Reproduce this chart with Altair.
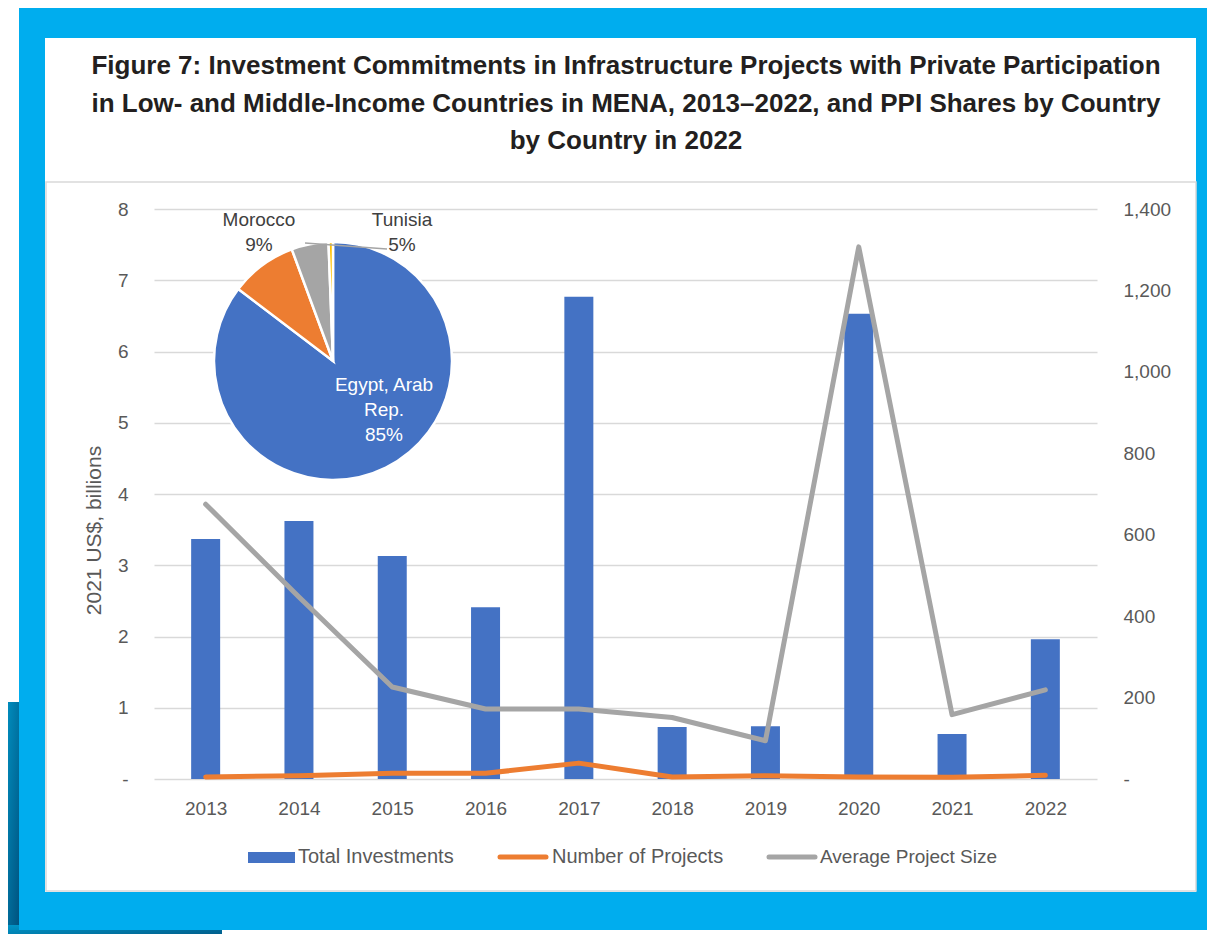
import altair as alt
import pandas as pd

# ---------------- data ----------------
years = [2013, 2014, 2015, 2016, 2017, 2018, 2019, 2020, 2021, 2022]
total_investments = [3.37, 3.62, 3.13, 2.41, 6.77, 0.73, 0.74, 6.53, 0.63, 1.96]
number_of_projects = [5, 8, 14, 14, 39, 5, 8, 5, 4, 9]
average_project_size = [675, 447, 226, 172, 172, 151, 94, 1307, 158, 219]

pie_countries = ["Egypt, Arab Rep.", "Morocco", "Tunisia", "Other"]
pie_shares = [85, 9, 5, 0.6]
pie_order = [1, 2, 3, 4]

left_ticks = [0, 1, 2, 3, 4, 5, 6, 7, 8]
right_ticks = [0, 200, 400, 600, 800, 1000, 1200, 1400]

title_lines = [
    "Figure 7: Investment Commitments in Infrastructure Projects with Private Participation",
    "in Low- and Middle-Income Countries in MENA, 2013\u20132022, and PPI Shares by Country",
    "by Country in 2022",
]
legend_labels = ["Total Investments", "Number of Projects", "Average Project Size"]

# ---------------- styling ----------------
BLUE = "#4472C4"
ORANGE = "#ED7D31"
GRAY = "#A5A5A5"
YELLOW = "#FFC000"
CYAN = "#00ADEE"
GRID = "#D9D9D9"
LABEL = "#595959"
FONT = "Liberation Sans"

PW, PH = 943, 570
one = pd.DataFrame({"k": [0]})

bars_df = pd.DataFrame({"year": years, "value": total_investments})
lines_df = pd.DataFrame({
    "year": years * 2,
    "value": number_of_projects + average_project_size,
    "series": [legend_labels[1]] * len(years) + [legend_labels[2]] * len(years),
})
pie_df = pd.DataFrame({"country": pie_countries, "share": pie_shares, "ord": pie_order})


def rect(x, x2, y, y2, **kw):
    return alt.Chart(one).mark_rect(**kw).encode(
        x=alt.value(x), x2=alt.value(x2), y=alt.value(y), y2=alt.value(y2)
    )


def text(s, x, y, size=19, color=LABEL, weight="normal", align="center"):
    return alt.Chart(pd.DataFrame({"t": [s]})).mark_text(
        font=FONT, fontSize=size, color=color, fontWeight=weight,
        align=align, baseline="middle"
    ).encode(x=alt.value(x), y=alt.value(y), text="t:N")


# ---------------- frame (ring only, so axes behind marks stay visible) ----------------
dark = alt.LinearGradient(
    gradient="linear",
    stops=[alt.GradientStop(color="#0096C8", offset=0),
           alt.GradientStop(color="#004E7A", offset=1)],
    x1=0, x2=1, y1=0, y2=1,
)
frame = [
    rect(-151, -134, 493, 733, color=dark),
    rect(-151, 68, 716, 733, color=dark),
    rect(-135, 1061, -201, -171, color=CYAN),   # top
    rect(-135, 1061, 683, 721, color=CYAN),     # bottom
    rect(-135, -109, -201, 721, color=CYAN),    # left
    rect(1042, 1061, -201, 721, color=CYAN),    # right
    rect(-108, 1042, -27, 682, fill=None, filled=False, stroke=GRID, strokeWidth=1.5),
]

titles = [
    text(title_lines[0], 472, -143, size=26, color="#231F20", weight="bold"),
    text(title_lines[1], 472, -105, size=26, color="#231F20", weight="bold"),
    text(title_lines[2], 472, -68, size=26, color="#231F20", weight="bold"),
]

# ---------------- bars & lines ----------------
xscale = alt.Scale(domain=[2012.5, 2022.5], nice=False, zero=False)
xaxis = alt.Axis(values=years, format="d", title=None, grid=False, domain=False,
                 ticks=False, tickSize=0, labelPadding=29, labelBaseline="middle",
                 labelFont=FONT, labelFontSize=19, labelColor=LABEL)

bars = alt.Chart(bars_df).mark_bar(size=29, color=BLUE).encode(
    x=alt.X("year:Q", scale=xscale, axis=xaxis),
    y=alt.Y("value:Q", scale=alt.Scale(domain=[0, 8], nice=False),
            axis=alt.Axis(values=left_ticks, orient="left", title="2021 US$, billions",
                          grid=True, gridColor=GRID, gridWidth=1.3, domain=False,
                          ticks=False, tickSize=0, labelPadding=26,
                          labelExpr="datum.value == 0 ? '-' : datum.label",
                          labelFont=FONT, labelFontSize=19, labelColor=LABEL,
                          titleFont=FONT, titleFontSize=21, titleFontWeight="normal",
                          titleColor=LABEL, titleX=-60, titleY=321, titleAngle=270,
                          titleAlign="center", titleBaseline="middle")),
)

lines = alt.Chart(lines_df).mark_line(strokeWidth=5, strokeCap="round", strokeJoin="round").encode(
    x=alt.X("year:Q", scale=xscale, axis=xaxis),
    y=alt.Y("value:Q", scale=alt.Scale(domain=[0, 1400], nice=False),
            axis=alt.Axis(values=right_ticks, orient="right", title=None, grid=False,
                          domain=False, ticks=False, tickSize=0, labelPadding=26,
                          labelExpr="datum.value == 0 ? '-' : format(datum.value, ',')",
                          labelFont=FONT, labelFontSize=19, labelColor=LABEL)),
    color=alt.Color("series:N", scale=alt.Scale(domain=legend_labels[1:], range=[ORANGE, GRAY]),
                    legend=None),
    detail="series:N",
)

# ---------------- pie ----------------
pie = alt.Chart(pie_df).mark_arc(radius=119, stroke="white", strokeWidth=2.5).encode(
    theta=alt.Theta("share:Q", stack=True),
    color=alt.Color("country:N", scale=alt.Scale(domain=pie_countries,
                                                 range=[BLUE, ORANGE, GRAY, YELLOW]),
                    legend=None),
    order=alt.Order("ord:Q"),
    x=alt.value(179), y=alt.value(152),
)
leader = alt.Chart(one).mark_rule(color=GRAY, strokeWidth=1.5).encode(
    x=alt.value(151), x2=alt.value(233), y=alt.value(34), y2=alt.value(40)
)
pie_labels = [
    text("Morocco", 105, 11, color="#404040"),
    text("9%", 105, 36, color="#404040"),
    text("Tunisia", 248, 11, color="#404040"),
    text("5%", 248, 36, color="#404040"),
    text("Egypt, Arab", 230, 176, color="white"),
    text("Rep.", 230, 201, color="white"),
    text("85%", 230, 226, color="white"),
]

# ---------------- legend ----------------
legend = [
    rect(94, 141, 643, 654, color=BLUE),
    text(legend_labels[0], 144, 648, size=20, align="left"),
    alt.Chart(one).mark_rule(color=ORANGE, strokeWidth=5, strokeCap="round").encode(
        x=alt.value(346), x2=alt.value(392), y=alt.value(648)),
    text(legend_labels[1], 398, 648, size=20, align="left"),
    alt.Chart(one).mark_rule(color=GRAY, strokeWidth=5, strokeCap="round").encode(
        x=alt.value(615), x2=alt.value(661), y=alt.value(648)),
    text(legend_labels[2], 666, 648, size=19, align="left"),
]

chart = alt.layer(
    *frame, *titles, bars, lines, pie, leader, *pie_labels, *legend
).resolve_scale(
    y="independent", color="independent"
).properties(
    width=PW, height=PH,
    padding={"left": 146, "top": 201, "right": 110, "bottom": 155},
    autosize=alt.AutoSizeParams(type="none"),
    background="white",
).configure_view(stroke=None)

chart.save("out.html", embed_options={"renderer": "svg", "actions": False})
